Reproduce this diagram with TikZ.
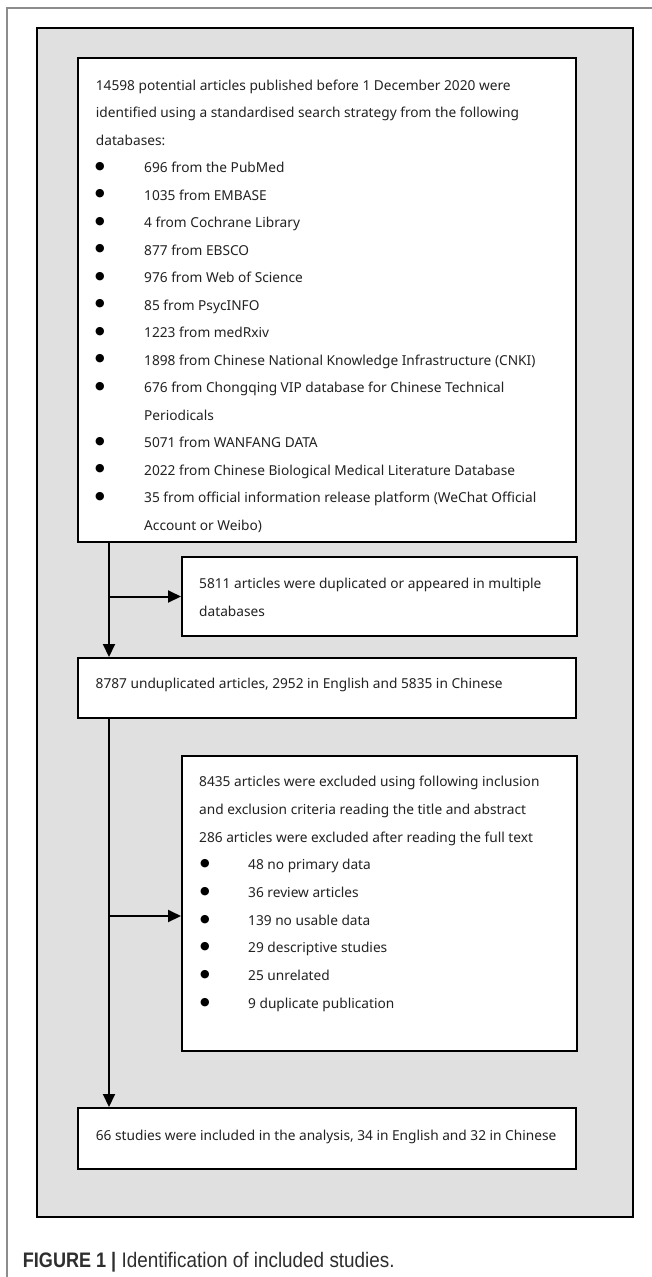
\documentclass[tikz,border=0pt]{standalone}
\usepackage{graphicx}
\usepackage{fontspec}
\setmainfont{Noto Sans}
\newfontfamily\capfont{Liberation Sans}
\newfontfamily\symfont{DejaVu Sans}
\usetikzlibrary{arrows.meta,calc}
\definecolor{panelgray}{HTML}{E0E0E0}
\definecolor{framegray}{HTML}{8C8C8C}
\definecolor{captext}{HTML}{2E2E2E}
\definecolor{bodytext}{HTML}{222222}
\begin{document}
\begin{tikzpicture}[x=1pt,y=-1pt,
  boxstyle/.style={draw=black,line width=2pt,fill=white,inner sep=0pt,anchor=north west},
  txt/.style={anchor=base west,inner sep=0pt,font=\fontsize{13.7}{16}\selectfont,text=bodytext},
  bul/.style={anchor=center,inner sep=0pt,font=\symfont\fontsize{11}{12}\selectfont,text=black},
  arr/.style={line width=2pt,-{Triangle[length=13pt,width=12pt]}},
  ]
\useasboundingbox (0,0) rectangle (652,1277);
\fill[white] (0,0) rectangle (652,1277);
\draw[framegray,line width=1.2pt] (7,1277) -- (7,8) -- (652,8);
\node[draw=black,line width=2pt,fill=panelgray,minimum width=596pt,minimum height=1189pt,anchor=north west,inner sep=0pt] (panel) at (36,27) {};

% boxes
\node[boxstyle,minimum width=498pt,minimum height=484pt] (top) at (77,57) {};
\node[boxstyle,minimum width=395pt,minimum height=79pt] (dup) at (181,556) {};
\node[boxstyle,minimum width=498pt,minimum height=60pt] (mid) at (77,657) {};
\node[boxstyle,minimum width=395pt,minimum height=295pt] (excl) at (181,755) {};
\node[boxstyle,minimum width=498pt,minimum height=61pt] (final) at (77,1107) {};

% top box text
\begin{scope}
\clip (77,57) rectangle (575,532);
\node[txt] (ta) at (95.7,90) {14598 potential articles published before 1 December 2020 were};
\node[txt] (tb) at (95.7,117.5) {identified using a standardised search strategy from the following};
\node[txt] (tc) at (95.7,145) {databases:};
\foreach \i/\t/\b in {3/696 from the PubMed/1,
  4/1035 from EMBASE/1,
  5/4 from Cochrane Library/1,
  6/877 from EBSCO/1,
  7/976 from Web of Science/1,
  8/85 from PsycINFO/1,
  9/1223 from medRxiv/1,
  10/1898 from Chinese National Knowledge Infrastructure (CNKI)/1,
  11/676 from Chongqing VIP database for Chinese Technical/1,
  12/Periodicals/0,
  13/5071 from WANFANG DATA/1,
  14/2022 from Chinese Biological Medical Literature Database/1,
  15/35 from official information release platform (WeChat Official/1,
  16/Account or Weibo)/0}{
  \node[txt] (tl\i) at (144,90+27.5*\i) {\t};
  \ifnum\b=1 \node[bul] (tbul\i) at (100,90+27.5*\i-6) {●};\fi
}
\end{scope}

% duplicate box
\node[txt] (da) at (199,588) {5811 articles were duplicated or appeared in multiple};
\node[txt] (db) at (199,616) {databases};

% middle box
\node[txt] (ma) at (95.5,688) {8787 unduplicated articles, 2952 in English and 5835 in Chinese};

% exclusion box
\node[txt] (ea) at (199,786.7) {8435 articles were excluded using following inclusion};
\node[txt] (eb) at (199,814.4) {and exclusion criteria reading the title and abstract};
\node[txt] (ec) at (199,842.1) {286 articles were excluded after reading the full text};
\foreach \i/\t in {1/48 no primary data,2/36 review articles,3/139 no usable data,4/29 descriptive studies,5/25 unrelated,6/9 duplicate publication}{
  \node[txt] (el\i) at (248,842.1+27.7*\i) {\t};
  \node[bul] (ebul\i) at (205,842.1+27.7*\i-6) {●};
}

% final box
\node[txt] (fa) at (95.7,1140) {66 studies were included in the analysis, 34 in English and 32 in Chinese};

% connectors
\coordinate (s1) at ($(top.south west)+(32,0)$);
\coordinate (s2) at ($(mid.south west)+(32,0)$);
\coordinate (ein) at ($(excl.north west)+(0,161)$);
\draw[arr] (s1) -- (s1 |- mid.north);
\draw[arr] (s1 |- dup.west) -- (dup.west);
\draw[arr] (s2) -- (s2 |- final.north);
\draw[arr] (s2 |- ein) -- (ein);

% caption
\node[anchor=base west,inner sep=0pt,text=captext] (cap) at (22.7,1267)
  {\capfont\fontsize{21}{24}\selectfont\scalebox{0.86}[1]{\bfseries FIGURE 1 |}\hspace{0.25em}\scalebox{0.9}[1]{Identification of included studies.}};
\end{tikzpicture}
\end{document}
